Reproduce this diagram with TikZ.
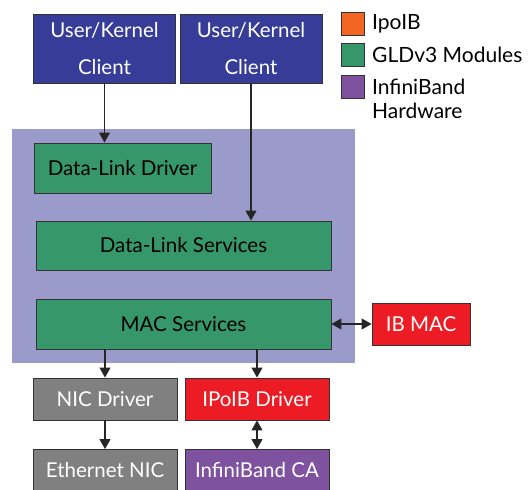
\documentclass[tikz,border=0pt]{standalone}
\usepackage{fontspec}
\setmainfont{Lato}
\usepackage{xcolor}
\usetikzlibrary{arrows.meta,positioning}
\definecolor{clientblue}{RGB}{54,60,152}
\definecolor{stacklav}{RGB}{154,154,203}
\definecolor{gldgreen}{RGB}{53,151,106}
\definecolor{ipoibred}{RGB}{237,28,36}
\definecolor{nicgray}{RGB}{128,128,128}
\definecolor{ibpurple}{RGB}{127,82,160}
\definecolor{ipoiborange}{RGB}{242,101,34}
\definecolor{edgegray}{RGB}{51,51,51}

\begin{document}
\begin{tikzpicture}[
  x=1pt, y=-1pt,
  blk/.style={rectangle, draw=edgegray, line width=0.9pt, align=center,
              font=\fontsize{20.5}{37}\selectfont, inner sep=0pt},
  clientbox/.style={blk, fill=clientblue, text=white, minimum width=142pt, minimum height=69pt},
  gldbox/.style={blk, fill=gldgreen, text=black, minimum height=50pt},
  redbox/.style={blk, fill=ipoibred, text=white, minimum height=42pt},
  graybox/.style={blk, fill=nicgray, text=white, minimum width=144pt, minimum height=42pt},
  hwbox/.style={blk, fill=ibpurple, text=white, minimum width=144pt, minimum height=42pt},
  keybox/.style={rectangle, draw=edgegray, line width=0.9pt, minimum size=23pt, inner sep=0pt},
  keytext/.style={anchor=west, font=\fontsize{21}{24}\selectfont, inner sep=0pt},
  arr/.style={-{Triangle[length=10pt,width=11pt]}, line width=1.1pt, draw=black!85},
  dblarr/.style={{Triangle[length=10pt,width=11pt]}-{Triangle[length=10pt,width=11pt]}, line width=1.1pt, draw=black!85}
]
  \useasboundingbox (0,0) rectangle (531,490);
  \fill[stacklav] (12,129) rectangle (355,363);

  \node[clientbox] (cliA) at (104.5,48.5) {User/Kernel\\Client};
  \node[clientbox] (cliB) at (251,48.5) {User/Kernel\\Client};
  \node[gldbox, minimum width=177pt] (dld) at (122.5,168) {Data-Link Driver};
  \node[gldbox, minimum width=295pt, minimum height=49pt] (dls) at (183.5,245.5) {Data-Link Services};
  \node[gldbox, minimum width=295pt] (mac) at (183.5,324) {MAC Services};
  \node[redbox, minimum width=98pt] (ibmac) at (421,324) {IB MAC};
  \node[graybox] (nicdrv) at (105,399) {NIC Driver};
  \node[redbox, minimum width=144pt] (ipoibdrv) at (257,399) {IPoIB Driver};
  \node[graybox] (ethnic) at (105,470.5) {Ethernet NIC};
  \node[hwbox] (ibca) at (257,470.5) {InfiniBand CA};

  % legend
  \node[keybox, fill=ipoiborange] (keyipoib) at (352.5,23.5) {};
  \node[keybox, fill=gldgreen, below=8pt of keyipoib] (keygld) {};
  \node[keybox, fill=ibpurple, below=8pt of keygld] (keyhw) {};
  \node[keytext] at (372,23.5) {IpoIB};
  \node[keytext] at (372,55) {GLDv3 Modules};
  \node[keytext, align=left, anchor=north west] at (372,78.5) {InfiniBand\\Hardware};

  \draw[arr] (cliA.south) -- (cliA.south |- dld.north);
  \draw[arr] (cliB.south) -- (cliB.south |- dls.north);
  \draw[dblarr] (mac.east) -- (ibmac.west);
  \draw[arr] (nicdrv.north |- mac.south) -- (nicdrv.north);
  \draw[arr] (ipoibdrv.north |- mac.south) -- (ipoibdrv.north);
  \draw[arr] (nicdrv) -- (ethnic);
  \draw[dblarr] (ipoibdrv) -- (ibca);
\end{tikzpicture}
\end{document}
